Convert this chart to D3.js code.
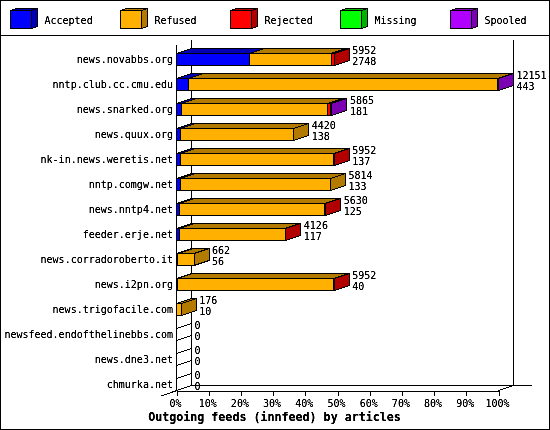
<!DOCTYPE html>
<html>
<head>
<meta charset="utf-8">
<script src="https://cdn.jsdelivr.net/npm/d3@7"></script>
<style>
html,body{margin:0;padding:0;background:#fff;overflow:hidden}
svg{display:block}
text{font-family:"DejaVu Sans Mono",monospace;font-size:10px;fill:#000}
</style>
</head>
<body>
<script>
const hosts = ["news.novabbs.org","nntp.club.cc.cmu.edu","news.snarked.org","news.quux.org","nk-in.news.weretis.net","nntp.comgw.net","news.nntp4.net","feeder.erje.net","news.corradoroberto.it","news.i2pn.org","news.trigofacile.com","newsfeed.endofthelinebbs.com","news.dne3.net","chmurka.net"];
const seriesNames = ["Accepted","Refused","Rejected","Missing","Spooled"];
const seriesColors = ["#0000ff","#ffb000","#ff0000","#00ff00","#b000ff"];
const seriesDark = ["#0000b2","#b27b00","#b20000","#00b200","#7b00b2"];
const accepted = [2748,443,181,138,137,133,125,117,56,40,10,0,0,0];
const refused = [3084,11668,5524,4282,5785,5681,5475,3979,606,5882,166,0,0,0];
const rejected = [120,0,120,0,30,0,30,30,0,30,0,0,0,0];
const missing = [0,0,0,0,0,0,0,0,0,0,0,0,0,0];
const spooled = [0,40,40,0,0,0,0,0,0,0,0,0,0,0];
const xTicks = [0,10,20,30,40,50,60,70,80,90,100];
const chartTitle = "Outgoing feeds (innfeed) by articles";

const W = 550, H = 430, DX = 15, DY = 5, HALF = 6;
const svg = d3.select("body").append("svg").attr("width",W).attr("height",H);
const defs = svg.append("defs");
const flt = defs.append("filter").attr("id","mono").attr("x",0).attr("y",0).attr("width",1).attr("height",1)
  .attr("color-interpolation-filters","sRGB");
flt.append("feComponentTransfer").append("feFuncA").attr("type","linear").attr("slope",1.6).attr("intercept",-0.1);

const shapes = svg.append("g").attr("shape-rendering","crispEdges").attr("fill","none").attr("stroke","#000");
const labels = svg.append("g").attr("filter","url(#mono)");

shapes.append("rect").attr("x",.5).attr("y",.5).attr("width",W-1).attr("height",H-1);
shapes.append("line").attr("x1",0).attr("x2",W).attr("y1",35.5).attr("y2",35.5);

// legend
const legendX = d3.scalePoint().domain(seriesNames).range([10.5,450.5]);
seriesNames.forEach((n,i)=>{
  const x = legendX(n), y = 10.5, w = 21, h = 18, dx = 6, dy = 2;
  const g = shapes.append("g");
  g.append("polygon").attr("points",[[x,y],[x+dx,y-dy],[x+w+dx,y-dy],[x+w,y]].join(" ")).attr("fill",seriesDark[i]);
  g.append("polygon").attr("points",[[x+w,y],[x+w+dx,y-dy],[x+w+dx,y+h-dy],[x+w,y+h]].join(" ")).attr("fill",seriesDark[i]);
  g.append("rect").attr("x",x).attr("y",y).attr("width",w).attr("height",h).attr("fill",seriesColors[i]);
  labels.append("text").attr("x",x+34).attr("y",23.5).text(n);
});

// scales
const totals = hosts.map((_,i)=>accepted[i]+refused[i]+rejected[i]+missing[i]+spooled[i]);
const maxTotal = d3.max(totals);
const x = d3.scaleLinear().domain([0,100]).range([176.5,498.5]);
const y = d3.scalePoint().domain(hosts).range([59.5,384.5]);
const pct = v => v/maxTotal*100;

// walls
const wall = (x1,y1,x2,y2)=>shapes.append("line").attr("x1",x1).attr("y1",y1).attr("x2",x2).attr("y2",y2);
wall(x(0)+DX,40,x(0)+DX,385.5);
wall(x(100)+DX,40,x(100)+DX,385.5);
wall(x(0),45,x(0),390.5);
wall(x(0)+DX,385.5,532,385.5);
wall(161,396,x(0)+DX,385.5);
wall(x(100),390.5,x(100)+DX,385.5);

// bottom axis
const axisG = svg.append("g").attr("transform","translate(0,390.5)")
  .call(d3.axisBottom(x).tickValues(xTicks).tickSize(5).tickSizeOuter(0).tickPadding(3).tickFormat(d=>d+"%"));
axisG.attr("font-family",null).attr("font-size",null);
axisG.selectAll("path,line").attr("stroke","#000").attr("shape-rendering","crispEdges");
axisG.selectAll("text").remove();
xTicks.forEach(t=>{
  labels.append("text").attr("x",x(t)-1).attr("y",406.5).attr("text-anchor","middle").text(t+"%");
});

// stacked bars
const rows = hosts.map((h,i)=>({host:h,Accepted:accepted[i],Refused:refused[i],Rejected:rejected[i],Missing:missing[i],Spooled:spooled[i]}));
const stacked = d3.stack().keys(seriesNames)(rows);
hosts.forEach((h,r)=>{
  const cy = y(h), top = cy-HALF, bot = cy+HALF;
  const g = shapes.append("g");
  let last = -1;
  stacked.forEach((s,k)=>{
    const v0 = s[r][0], v1 = s[r][1];
    if(v1<=v0) return;
    last = k;
    const a = x(pct(v0)), b = x(pct(v1));
    g.append("polygon").attr("points",[[a,top],[a+DX,top-DY],[b+DX,top-DY],[b,top]].join(" ")).attr("fill",seriesDark[k]);
    g.append("rect").attr("x",a).attr("y",top).attr("width",b-a).attr("height",bot-top).attr("fill",seriesColors[k]);
  });
  const e = x(pct(totals[r]));
  g.append("polygon").attr("points",[[e,top],[e+DX,top-DY],[e+DX,bot-DY],[e,bot]].join(" "))
    .attr("fill",last>=0?seriesDark[last]:"none");

  labels.append("text").attr("x",173).attr("y",cy+3).attr("text-anchor","end").text(h);
  labels.append("text").attr("x",e+18).attr("y",cy-6).text(totals[r]);
  labels.append("text").attr("x",e+18).attr("y",cy+5).text(accepted[r]);
});

labels.append("text").attr("x",274.5).attr("y",421).attr("text-anchor","middle")
  .style("font-weight","bold").style("font-size","11.67px").text(chartTitle);
</script>
</body>
</html>
